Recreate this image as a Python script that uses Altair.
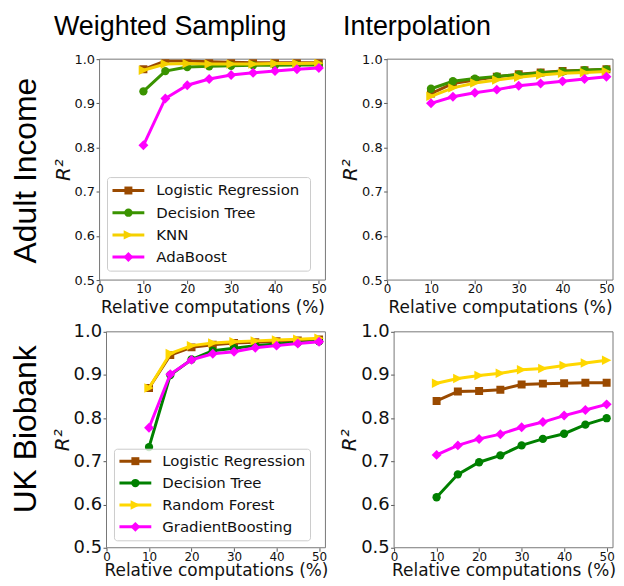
import altair as alt
import pandas as pd

# ---------------- data ----------------
x_vals = [10, 15, 20, 25, 30, 35, 40, 45, 50]

top_names = ["Logistic Regression", "Decision Tree", "KNN", "AdaBoost"]
bot_names = ["Logistic Regression", "Decision Tree", "Random Forest", "GradientBoosting"]

# Adult Income - Weighted Sampling
ai_ws_lr = [0.977, 0.996, 0.996, 0.994, 0.993, 0.992, 0.992, 0.992, 0.992]
ai_ws_dt = [0.927, 0.973, 0.982, 0.984, 0.985, 0.986, 0.986, 0.987, 0.987]
ai_ws_knn = [0.975, 0.989, 0.990, 0.989, 0.989, 0.989, 0.990, 0.990, 0.991]
ai_ws_ada = [0.805, 0.911, 0.941, 0.955, 0.964, 0.969, 0.973, 0.977, 0.980]

# Adult Income - Interpolation
ai_in_lr = [0.922, 0.945, 0.953, 0.960, 0.966, 0.970, 0.973, 0.975, 0.977]
ai_in_dt = [0.933, 0.950, 0.956, 0.961, 0.965, 0.969, 0.972, 0.975, 0.977]
ai_in_knn = [0.916, 0.935, 0.946, 0.953, 0.959, 0.964, 0.968, 0.970, 0.972]
ai_in_ada = [0.900, 0.915, 0.924, 0.931, 0.940, 0.945, 0.950, 0.955, 0.960]

# UK Biobank - Weighted Sampling
uk_ws_lr = [0.870, 0.946, 0.964, 0.970, 0.974, 0.976, 0.978, 0.980, 0.982]
uk_ws_dt = [0.733, 0.900, 0.936, 0.956, 0.962, 0.968, 0.972, 0.975, 0.978]
uk_ws_rf = [0.870, 0.950, 0.968, 0.974, 0.977, 0.979, 0.981, 0.983, 0.985]
uk_ws_gb = [0.778, 0.902, 0.935, 0.949, 0.954, 0.963, 0.968, 0.973, 0.977]

# UK Biobank - Interpolation
uk_in_lr = [0.840, 0.862, 0.863, 0.866, 0.878, 0.880, 0.881, 0.882, 0.882]
uk_in_dt = [0.617, 0.670, 0.698, 0.714, 0.737, 0.752, 0.764, 0.785, 0.800]
uk_in_rf = [0.881, 0.892, 0.899, 0.904, 0.912, 0.915, 0.922, 0.928, 0.934]
uk_in_gb = [0.715, 0.737, 0.752, 0.763, 0.779, 0.791, 0.806, 0.819, 0.832]

x_ticks = [0, 10, 20, 30, 40, 50]
y_ticks = [0.5, 0.6, 0.7, 0.8, 0.9, 1.0]

col_titles = ["Weighted Sampling", "Interpolation"]
row_titles = ["Adult Income", "UK Biobank"]

# ---------------- styles ----------------
top_colors = ["#9a4a00", "#3a9300", "#f5d000", "#ff00ff"]
bot_colors = ["#9a4a00", "#008000", "#ffd700", "#ff00ff"]
SQUARE = "M-1,-1L1,-1L1,1L-1,1Z"
CIRCLE = "circle"
TRI_R = "M1,0L-1,-1L-1,1Z"
DIAMOND = "M0,-1L1,0L0,1L-1,0Z"
shapes = [SQUARE, CIRCLE, TRI_R, DIAMOND]
sizes = [64, 70, 90, 100]

TICK_FONT = "DejaVu Sans"
BIG_FONT = "Liberation Sans"
FRAME = "#777777"
dummy = pd.DataFrame({"a": [0]})

CELL_W = 227


def panel(series, colors, h, ylab_size, x0=0, xt_pad=2, legend_names=None, legend_box=None,
          extra=None):
    plot_w = CELL_W - x0
    xs = alt.X("x:Q", scale=alt.Scale(domain=[0, 51.5], nice=False, zero=False,
                                      range=[x0, CELL_W]),
               axis=alt.Axis(values=x_ticks, title="Relative computations (%)", grid=False,
                             domain=False, labelFont=TICK_FONT, labelFontSize=12,
                             labelColor="#111", titleFont=TICK_FONT, titleFontSize=17,
                             titleFontWeight="normal", titleColor="#111", tickColor="#555",
                             tickSize=3.5, labelPadding=0, titlePadding=xt_pad,
                             titleX=x0 + plot_w / 2,
                             labelFlush=False, labelOverlap=False))
    ys = alt.Y("y:Q", scale=alt.Scale(domain=[0.5, 1.0], nice=False, zero=False),
               axis=alt.Axis(values=y_ticks, format=".1f", title="R²", grid=False,
                             domain=False, labelFont=TICK_FONT, labelFontSize=ylab_size,
                             labelColor="#111", titleFont=TICK_FONT, titleFontSize=20,
                             titleFontWeight="normal", titleFontStyle="italic",
                             titleColor="#111", tickColor="#555", tickSize=3.5,
                             labelPadding=1.5, titlePadding=1, labelOverlap=False,
                             offset=-x0))
    layers = [alt.Chart(dummy).mark_rect(fillOpacity=0, stroke=FRAME, strokeWidth=1).encode(
        x=alt.value(x0), x2=alt.value(CELL_W), y=alt.value(0), y2=alt.value(h))]
    for vals, col, shp, sz in zip(series, colors, shapes, sizes):
        df = pd.DataFrame({"x": x_vals, "y": vals})
        base = alt.Chart(df)
        layers.append(base.mark_line(color=col, strokeWidth=3, clip=True).encode(x=xs, y=ys))
        layers.append(base.mark_point(shape=shp, filled=True, size=sz, color=col, opacity=1,
                                      clip=True).encode(x=xs, y=ys))
    if legend_names is not None:
        bx0, bx1, by0, by1, ey0, dy, lx0, lx1, tx = legend_box
        layers.append(alt.Chart(dummy).mark_rect(fill="white", fillOpacity=0.8, stroke="#cccccc",
                                                 strokeWidth=1, cornerRadius=3).encode(
            x=alt.value(x0 + bx0), x2=alt.value(x0 + bx1), y=alt.value(by0), y2=alt.value(by1)))
        for i, (nm, col, shp, sz) in enumerate(zip(legend_names, colors, shapes, sizes)):
            yy = ey0 + i * dy
            layers.append(alt.Chart(dummy).mark_rule(color=col, strokeWidth=3).encode(
                x=alt.value(x0 + lx0), x2=alt.value(x0 + lx1), y=alt.value(yy)))
            layers.append(alt.Chart(dummy).mark_point(shape=shp, filled=True, size=sz, color=col,
                                                      opacity=1).encode(
                x=alt.value(x0 + (lx0 + lx1) / 2), y=alt.value(yy)))
            layers.append(alt.Chart(dummy).mark_text(align="left", baseline="middle", font=TICK_FONT,
                                                     fontSize=15, color="#111").encode(
                x=alt.value(x0 + tx), y=alt.value(yy), text=alt.value(nm)))
    if extra:
        layers.extend(extra)
    return alt.layer(*layers).properties(width=CELL_W, height=h)


# Figure-level labels (positioned relative to the top-left panel)
extra = [
    alt.Chart(dummy).mark_rule(strokeOpacity=0, strokeWidth=1).encode(
        x=alt.value(-91.5), y=alt.value(-49.5), y2=alt.value(-40)),
    alt.Chart(dummy).mark_text(font=BIG_FONT, fontSize=27, align="center", baseline="alphabetic",
                               color="black").encode(
        x=alt.value(71), y=alt.value(-24), text=alt.value(col_titles[0])),
    alt.Chart(dummy).mark_text(font=BIG_FONT, fontSize=27, align="center", baseline="alphabetic",
                               color="black").encode(
        x=alt.value(319), y=alt.value(-24), text=alt.value(col_titles[1])),
    alt.Chart(dummy).mark_text(font=BIG_FONT, fontSize=32, align="center", baseline="alphabetic",
                               angle=270, color="black").encode(
        x=alt.value(-64), y=alt.value(112), text=alt.value(row_titles[0])),
    alt.Chart(dummy).mark_text(font=BIG_FONT, fontSize=32, align="center", baseline="alphabetic",
                               angle=270, color="black").encode(
        x=alt.value(-64), y=alt.value(372), text=alt.value(row_titles[1])),
]

tl = panel([ai_ws_lr, ai_ws_dt, ai_ws_knn, ai_ws_ada], top_colors, 222, 13, xt_pad=5,
           legend_names=top_names,
           legend_box=(8, 212, 119, 213, 132, 22.3, 13, 45, 57), extra=extra)
tr = panel([ai_in_lr, ai_in_dt, ai_in_knn, ai_in_ada], top_colors, 222, 13, xt_pad=5)
bl = panel([uk_ws_lr, uk_ws_dt, uk_ws_rf, uk_ws_gb], bot_colors, 217, 18, x0=7, xt_pad=0,
           legend_names=bot_names,
           legend_box=(8, 205, 118, 210, 130, 22.0, 13, 45, 56))
br = panel([uk_in_lr, uk_in_dt, uk_in_rf, uk_in_gb], bot_colors, 217, 18, x0=7, xt_pad=0)

chart = alt.concat(
    tl, tr, bl, br,
    columns=2, bounds="flush", spacing={"row": 52, "column": 62},
).properties(
    padding=0, background="white"
).configure_view(stroke=None)

chart.save("out.html", embed_options={"renderer": "svg", "actions": False})
